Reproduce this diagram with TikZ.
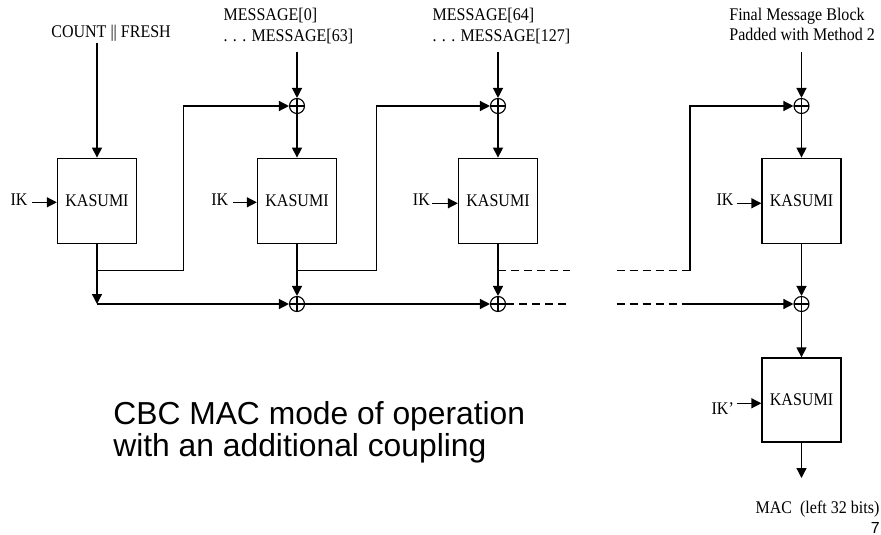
\documentclass[tikz,border=0pt]{standalone}
\usepackage{fontspec}
\setmainfont{Liberation Serif}
\newfontfamily\tnr[FakeStretch=0.9]{Liberation Serif}
\newfontfamily\arialf{Liberation Sans}
\usetikzlibrary{arrows.meta}
\begin{document}
\begin{tikzpicture}[x=1pt,y=-1pt,
  line width=1.3pt,
  arr/.style={-{Triangle[length=10pt,width=10pt]}},
  kbox/.style={draw,rectangle,minimum width=79pt,minimum height=85.5pt,inner sep=0pt,font=\tnr\fontsize{17.8}{20}\selectfont},
  xor/.style={draw,circle,minimum size=15pt,inner sep=0pt,line width=1.1pt,
    path picture={\draw[line width=1.1pt] (path picture bounding box.north)--(path picture bounding box.south)
      (path picture bounding box.west)--(path picture bounding box.east);}},
  lbl/.style={anchor=base west,inner sep=0pt,font=\tnr\fontsize{17.8}{20}\selectfont},
  dsh/.style={dash pattern=on 8pt off 5pt}
]
\useasboundingbox (0,0) rectangle (881,535);

% boxes
\node[kbox] (k1) at (97,201) {KASUMI};
\node[kbox] (k2) at (297,201) {KASUMI};
\node[kbox] (k3) at (498,201) {KASUMI};
\node[kbox] (k4) at (801.5,201) {KASUMI};
\node[kbox,minimum height=84pt] (k5) at (801.5,400) {KASUMI};

% xors
\node[xor] (x1) at (297,106) {};
\node[xor] (x2) at (498,106) {};
\node[xor] (x3) at (801.5,106) {};
\node[xor] (y1) at (297,304) {};
\node[xor] (y2) at (498,304) {};
\node[xor] (y3) at (801.5,304) {};

% labels
\node[lbl] (tc) at (50.7,37.3) {COUNT || FRESH};
\node[lbl] (tm0a) at (223,20.7) {MESSAGE[0]};
\node[lbl] (tm0b) at (223,41.5) {. . . MESSAGE[63]};
\node[lbl] (tm1a) at (432,20.7) {MESSAGE[64]};
\node[lbl] (tm1b) at (432,41.5) {. . . MESSAGE[127]};
\node[lbl] (tfa) at (728.7,20.7) {Final Message Block};
\node[lbl] (tfb) at (728.7,40.7) {Padded with Method 2};
\node[lbl] (ik1) at (10,205) {IK};
\node[lbl] (ik2) at (210.7,205) {IK};
\node[lbl] (ik3) at (412.3,205) {IK};
\node[lbl] (ik4) at (716,205) {IK};
\node[lbl] (ik5) at (711,414) {IK’};
\node[lbl] (mac) at (755,513.3) {MAC\ \ (left 32 bits)};
\node[anchor=base east,inner sep=0pt,font=\arialf\fontsize{16}{18}\selectfont] (pg) at (880.5,533.3) {7};
\node[anchor=base west,inner sep=0pt,align=left,font=\arialf\fontsize{31.8}{32.4}\selectfont] (cap1) at (112.7,424.3) {CBC MAC mode of operation};
\node[anchor=base west,inner sep=0pt,align=left,font=\arialf\fontsize{31.8}{32.4}\selectfont] (cap2) at (112.7,456.7) {with an additional coupling};

% coordinates
\coordinate (s1) at (97,43.3);
\coordinate (s2) at (297,51.7);
\coordinate (s3) at (498,51.7);
\coordinate (s4) at (801.5,51.7);
\coordinate (i1) at (32.3,202.3);
\coordinate (i2) at (233,202.3);
\coordinate (i3) at (432,203.3);
\coordinate (i4) at (736.7,203.3);
\coordinate (i5) at (736.7,403.3);
\coordinate (b1) at (97,270.7);
\coordinate (u1) at (183.7,106);
\coordinate (b2) at (297,270.7);
\coordinate (u2) at (376.7,106);
\coordinate (b3) at (498,270.7);
\coordinate (c1) at (97,304);
\coordinate (d1) at (570,270.7);
\coordinate (d2) at (616.7,270.7);
\coordinate (d3) at (690,270.7);
\coordinate (u3) at (690,106);
\coordinate (e1) at (570,304);
\coordinate (e2) at (616.7,304);
\coordinate (e3) at (690,304);
\coordinate (o5) at (801.5,478);

% inputs
\draw[arr] (s1) -- (k1);
\draw[arr] (s2) -- (x1);
\draw[arr] (s3) -- (x2);
\draw[arr] (s4) -- (x3);
\draw[arr] (i1) -- (i1 -| k1.west);
\draw[arr] (i2) -- (i2 -| k2.west);
\draw[arr] (i3) -- (i3 -| k3.west);
\draw[arr] (i4) -- (i4 -| k4.west);
\draw[arr] (i5) -- (i5 -| k5.west);

% chain
\draw[arr] (x1) -- (k2);
\draw[arr] (x2) -- (k3);
\draw[arr] (x3) -- (k4);
\draw[arr] (k1) -- (c1);
\draw[arr] (c1) -- (y1);
\draw[arr] (b1) -| (u1) -- (x1);
\draw[arr] (k2) -- (y1);
\draw[arr] (b2) -| (u2) -- (x2);
\draw[arr] (y1) -- (y2);
\draw[arr] (k3) -- (y2);
\draw[dsh] (b3) -- (d1);
\draw[dsh] (d2) -- (d3);
\draw[arr] (d3) -- (u3) -- (x3);
\draw[dsh] (y2) -- (e1);
\draw[dsh] (e2) -- (e3);
\draw[arr] (e3) -- (y3);
\draw[arr] (k4) -- (y3);
\draw[arr] (y3) -- (k5);
\draw[arr] (k5) -- (o5);
\end{tikzpicture}
\end{document}
